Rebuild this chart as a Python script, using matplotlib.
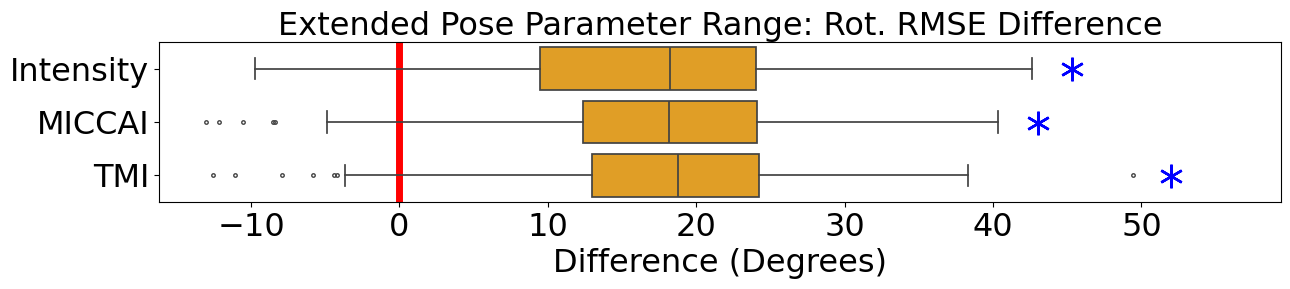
import numpy as np
import matplotlib
matplotlib.use('Agg')
import matplotlib.pyplot as plt

# Summary statistics (degrees)
categories = ['Intensity', 'MICCAI', 'TMI']
whislo = [-9.7, -4.9, -3.7]
q1 = [9.45, 12.35, 12.95]
med = [18.2, 18.13, 18.74]
q3 = [24.0, 24.06, 24.26]
whishi = [42.6, 40.35, 38.3]
fliers = [
    [],
    [-13.04, -12.17, -10.55, -8.5, -8.4],
    [-12.57, -11.09, -7.93, -5.84, -4.38, -4.2, 49.4],
]
star_x = [45.3, 43.0, 52.0]

stats = []
for i, name in enumerate(categories):
    stats.append(dict(label=name, whislo=whislo[i], q1=q1[i], med=med[i],
                      q3=q3[i], whishi=whishi[i], fliers=fliers[i]))

fig = plt.figure(figsize=(12.9, 2.89), dpi=100)
ax = fig.add_axes([159 / 1290, 1 - 202 / 289, 1122 / 1290, 160 / 289])

line_col = '0.26'
pos = np.arange(len(categories))
ax.bxp(stats, positions=pos, vert=False, widths=0.8, patch_artist=True,
       boxprops=dict(facecolor='#e09e26', edgecolor=line_col, linewidth=1.25),
       medianprops=dict(color=line_col, linewidth=1.25),
       whiskerprops=dict(color=line_col, linewidth=1.25),
       capprops=dict(color=line_col, linewidth=1.25),
       capwidths=0.4,
       flierprops=dict(marker='o', markersize=2.5, markerfacecolor='none',
                       markeredgecolor=line_col, markeredgewidth=1.0))

ax.axvline(0, color='red', linewidth=5, zorder=0)

# significance markers
ax.plot(star_x, pos + 0.01, linestyle='none', marker=(6, 2, 0),
        markersize=17, markeredgewidth=1.8, color='blue')

ax.set_xlim(-16.2, 59.4)
ax.set_ylim(2.5, -0.5)
ax.set_yticks(pos)
ax.set_yticklabels(categories)
ax.tick_params(labelsize=23)
ax.set_xlabel('Difference (Degrees)', fontsize=23)
ax.set_title('Extended Pose Parameter Range: Rot. RMSE Difference',
             fontsize=23, pad=3)

fig.savefig('out.png', dpi=100)
